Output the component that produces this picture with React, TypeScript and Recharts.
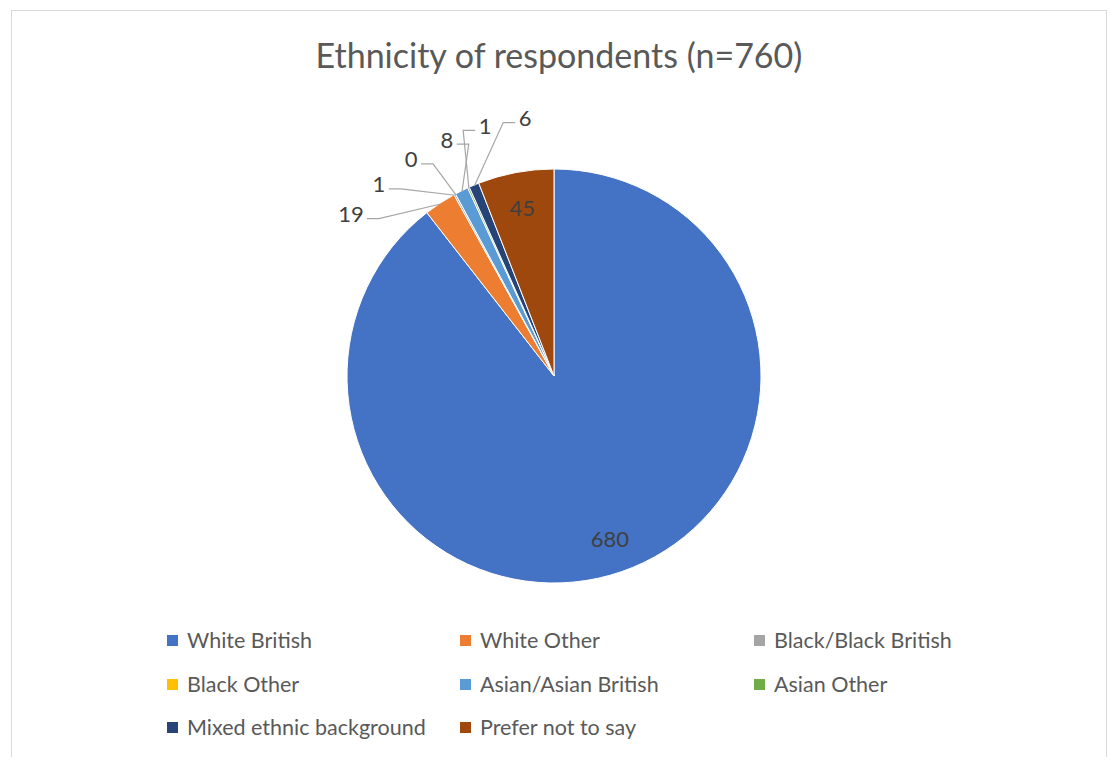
import React from "react";
import { PieChart, Pie, Cell } from "recharts";

const categories = [
  "White British",
  "White Other",
  "Black/Black British",
  "Black Other",
  "Asian/Asian British",
  "Asian Other",
  "Mixed ethnic background",
  "Prefer not to say",
];
const counts = [680, 19, 1, 0, 8, 1, 6, 45];
const colors = [
  "#4472C4",
  "#ED7D31",
  "#A5A5A5",
  "#FFC000",
  "#5B9BD5",
  "#70AD47",
  "#264478",
  "#9E480E",
];

const TITLE = "Ethnicity of respondents (n=760)";
const FONT = "Lato, 'Open Sans', sans-serif";
const RADIAN = Math.PI / 180;

const data = categories.map((name, i) => ({ name, value: counts[i], fill: colors[i] }));
const total = counts.reduce((a, b) => a + b, 0);

// slices too thin for an inside label get an outside label with a leader line
const isSmall = (v: number) => v / total < 0.04;
const smallIdx = counts.map((v, i) => (isSmall(v) ? i : -1)).filter((i) => i >= 0);

const midOf = (i: number) => {
  const before = counts.slice(0, i).reduce((a, b) => a + b, 0);
  let a = 90 - ((before + counts[i] / 2) / total) * 360;
  while (a <= -180) a += 360;
  return a;
};
const meanMid = smallIdx.reduce((s, i) => s + midOf(i), 0) / smallIdx.length;
const STEP = 9;
const LABEL_R = 260;

function renderLabel(props: any) {
  const { cx, cy, midAngle, outerRadius, index, value } = props;
  if (!isSmall(value)) {
    const r = outerRadius * 0.83;
    const x = cx + r * Math.cos(-midAngle * RADIAN);
    const y = cy + r * Math.sin(-midAngle * RADIAN);
    return (
      <text x={x} y={y} textAnchor="middle" dominantBaseline="central" fill="#404040" fontSize={22} fontFamily={FONT}>
        {value}
      </text>
    );
  }
  const k = smallIdx.indexOf(index);
  const la = meanMid + 1.5 + STEP * ((smallIdx.length - 1) / 2 - k);
  const lx = cx + LABEL_R * Math.cos(la * RADIAN);
  const ly = cy - LABEL_R * Math.sin(la * RADIAN);
  const ex = cx + (outerRadius - 1) * Math.cos(-midAngle * RADIAN);
  const ey = cy + (outerRadius - 1) * Math.sin(-midAngle * RADIAN);
  const halfW = String(value).length * 6;
  const dir = ex > lx ? 1 : -1;
  const pts = [
    [lx + dir * (halfW + 4), ly + 5],
    [lx + dir * (halfW + 16), ly + 5],
    [ex, ey],
  ]
    .map((p) => p.join(","))
    .join(" ");
  return (
    <g key={`lbl-${index}`}>
      <polyline points={pts} fill="none" stroke="#A6A6A6" strokeWidth={1.2} />
      <text x={lx} y={ly} textAnchor="middle" dominantBaseline="central" fill="#404040" fontSize={22} fontFamily={FONT}>
        {value}
      </text>
    </g>
  );
}

const legendCols = [167, 460, 754];
const legendRows = [640, 684, 727];

export default function App() {
  return (
    <div
      style={{
        position: "absolute",
        left: 0,
        top: 0,
        width: 1111,
        height: 757,
        overflow: "hidden",
        background: "#fff",
        fontFamily: FONT,
      }}
    >
      <div
        style={{
          position: "absolute",
          left: 11,
          top: 10,
          width: 1094,
          height: 800,
          border: "1.5px solid #D9D9D9",
        }}
      />
      <div
        style={{
          position: "absolute",
          left: 0,
          width: 1118,
          top: 34,
          textAlign: "center",
          fontSize: 34,
          color: "#595959",
          lineHeight: "42px",
        }}
      >
        {TITLE}
      </div>
      <div style={{ position: "absolute", left: 0, top: 0 }}>
        <PieChart width={1111} height={600} margin={{ top: 0, right: 0, bottom: 0, left: 0 }}>
          <Pie
            data={data}
            dataKey="value"
            nameKey="name"
            cx={554}
            cy={376}
            outerRadius={207}
            startAngle={90}
            endAngle={-270}
            stroke="#fff"
            strokeWidth={1}
            label={renderLabel}
            labelLine={false}
            isAnimationActive={false}
          >
            {data.map((d) => (
              <Cell key={d.name} fill={d.fill} />
            ))}
          </Pie>
        </PieChart>
      </div>
      {categories.map((name, i) => (
        <div
          key={name}
          style={{
            position: "absolute",
            left: legendCols[i % 3],
            top: legendRows[Math.floor(i / 3)] - 13,
            height: 26,
            display: "flex",
            alignItems: "center",
            fontSize: 21.5,
            color: "#595959",
            whiteSpace: "nowrap",
          }}
        >
          <span style={{ display: "inline-block", width: 11, height: 11, background: colors[i], marginRight: 9 }} />
          {name}
        </div>
      ))}
    </div>
  );
}
